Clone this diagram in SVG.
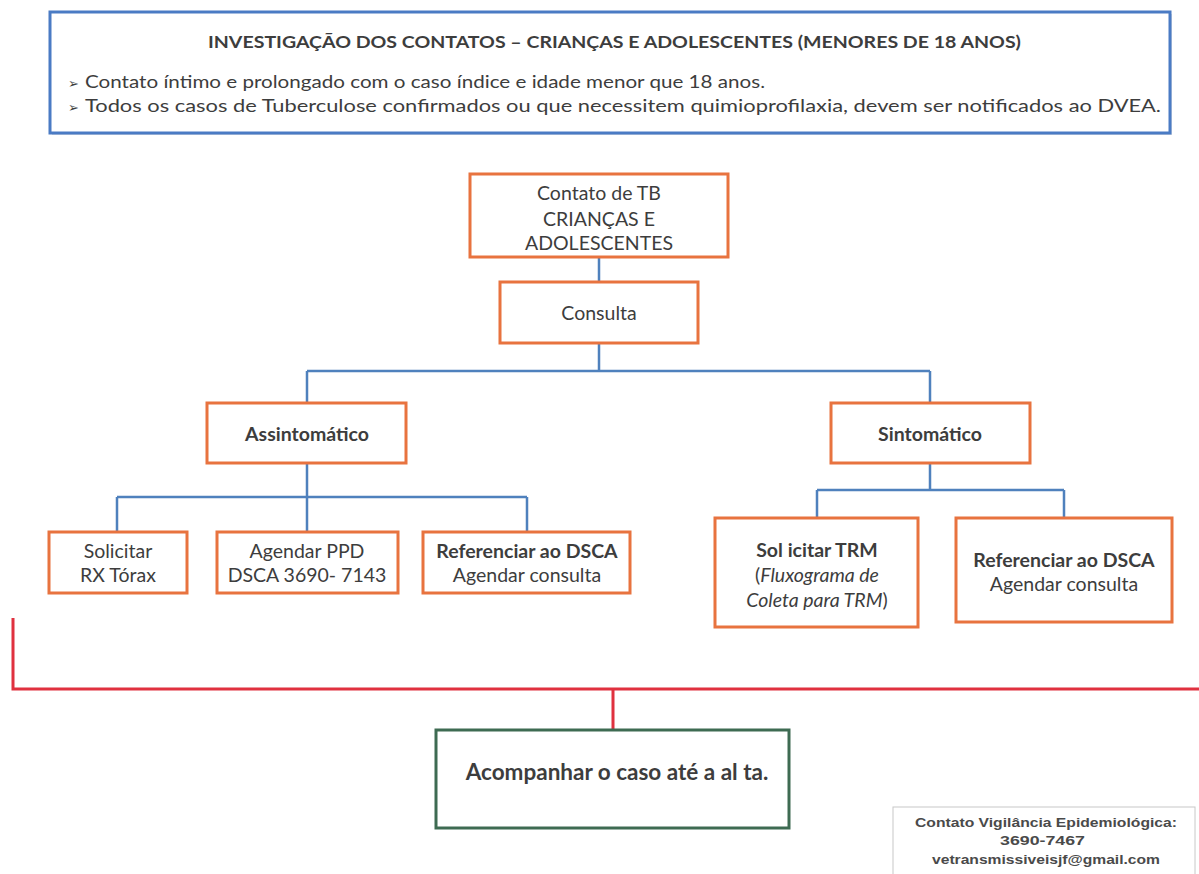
<svg xmlns="http://www.w3.org/2000/svg" width="1199" height="874" viewBox="0 0 1199 874">
<style>
  .t{font-family:Lato,"Open Sans","Liberation Sans",sans-serif;fill:#3d3d3d;}
  .n{font-size:19.5px;text-anchor:middle;}
  .b{font-weight:bold;}
  .i{font-style:italic;}
  .box{fill:#ffffff;stroke:#E8733F;stroke-width:3;}
  .blue{fill:none;stroke:#4F81BD;stroke-width:2.5;}
  .red{fill:none;stroke:#E0313F;stroke-width:3;}
  .em{font-family:"Liberation Sans",Arial,sans-serif;font-size:13px;font-weight:bold;fill:#4a4a4a;}
</style>
<rect width="1199" height="874" fill="#ffffff"/>
<g id="header">
  <rect x="52" y="14" width="1120" height="121" fill="#d9dde3"/>
  <rect x="50" y="12" width="1120" height="121" fill="#ffffff" stroke="#4A7BC4" stroke-width="3"/>
  <text class="t b" x="208" y="48" font-size="17" textLength="813" lengthAdjust="spacingAndGlyphs">INVESTIGAÇÃO DOS CONTATOS – CRIANÇAS E ADOLESCENTES (MENORES DE 18 ANOS)</text>
  <text class="t" x="68" y="88" font-size="13">➢</text>
  <text class="t" x="85" y="88" font-size="18" textLength="680" lengthAdjust="spacingAndGlyphs">Contato íntimo e prolongado com o caso índice e idade menor que 18 anos.</text>
  <text class="t" x="68" y="112" font-size="13">➢</text>
  <text class="t" x="85" y="112" font-size="18" textLength="1076" lengthAdjust="spacingAndGlyphs">Todos os casos de Tuberculose confirmados ou que necessitem quimioprofilaxia, devem ser notificados ao DVEA.</text>
</g>
<g id="connectors">
  <path class="blue" d="M599,257 V282 M599,343 V371 M307,371 H930 M307,371 V403 M930,371 V403"/>
  <path class="blue" d="M307,463 V497 M117,497 H527 M117,497 V532 M307,497 V532 M527,497 V532"/>
  <path class="blue" d="M930,463 V490 M817,490 H1064 M817,490 V518 M1064,490 V518"/>
  <path class="red" d="M13,618 V689 H1199 M613,689 V730"/>
</g>
<g id="contato">
  <rect class="box" x="470" y="174" width="258" height="83"/>
  <text class="t n" x="599" y="200">Contato de TB</text>
  <text class="t n" x="599" y="226">CRIANÇAS E</text>
  <text class="t n" x="599" y="250">ADOLESCENTES</text>
</g>
<g id="consulta">
  <rect class="box" x="500" y="282" width="198" height="61"/>
  <text class="t n" x="599" y="320">Consulta</text>
</g>
<g id="assintomatico">
  <rect class="box" x="207" y="403" width="199" height="60"/>
  <text class="t n b" x="307" y="441">Assintomático</text>
</g>
<g id="sintomatico">
  <rect class="box" x="831" y="403" width="199" height="60"/>
  <text class="t n b" x="930" y="441">Sintomático</text>
</g>
<g id="solicitar-rx">
  <rect class="box" x="49" y="532" width="138" height="61"/>
  <text class="t n" x="118" y="558">Solicitar</text>
  <text class="t n" x="118" y="582">RX Tórax</text>
</g>
<g id="agendar-ppd">
  <rect class="box" x="217" y="532" width="181" height="61"/>
  <text class="t n" x="307" y="558">Agendar PPD</text>
  <text class="t n" x="307" y="582">DSCA 3690- 7143</text>
</g>
<g id="referenciar-1">
  <rect class="box" x="423" y="532" width="207" height="61"/>
  <text class="t n b" x="527" y="558">Referenciar ao DSCA</text>
  <text class="t n" x="527" y="582">Agendar consulta</text>
</g>
<g id="solicitar-trm">
  <rect class="box" x="715" y="518" width="203" height="109"/>
  <text class="t n b" x="817" y="557">Sol icitar TRM</text>
  <text class="t n" x="817" y="582">(<tspan class="i">Fluxograma de</tspan></text>
  <text class="t n" x="817" y="607"><tspan class="i">Coleta para TRM</tspan>)</text>
</g>
<g id="referenciar-2">
  <rect class="box" x="956" y="518" width="216" height="104"/>
  <text class="t n b" x="1064" y="567">Referenciar ao DSCA</text>
  <text class="t n" x="1064" y="591">Agendar consulta</text>
</g>
<g id="acompanhar">
  <rect x="436" y="730" width="353" height="98" fill="#ffffff" stroke="#3E6B52" stroke-width="3"/>
  <text class="t n b" x="617" y="780" style="font-size:22.5px">Acompanhar o caso até a al ta.</text>
</g>
<g id="contato-vigilancia">
  <rect x="893" y="807" width="302" height="72" fill="#ffffff" stroke="#c8c8c8" stroke-width="1"/>
  <text class="em" x="915" y="827" textLength="262" lengthAdjust="spacingAndGlyphs">Contato Vigilância Epidemiológica:</text>
  <text class="em" x="1000" y="845" textLength="85" lengthAdjust="spacingAndGlyphs">3690-7467</text>
  <text class="em" x="932" y="864" textLength="228" lengthAdjust="spacingAndGlyphs">vetransmissiveisjf@gmail.com</text>
</g>
</svg>
